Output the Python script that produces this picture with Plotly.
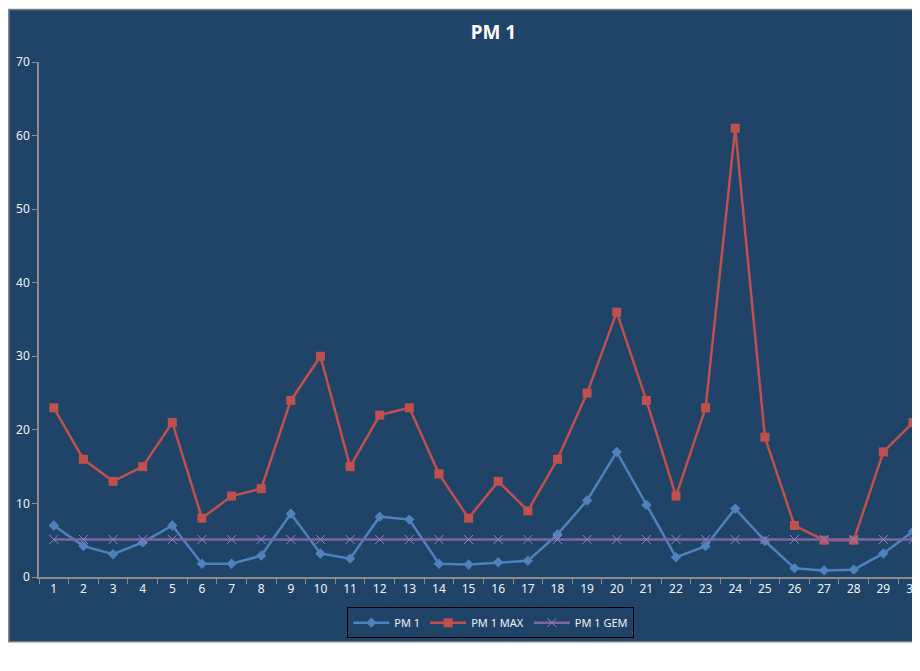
import plotly.graph_objects as go

# Day numbers (category axis)
days = [str(d) for d in range(1, 31)]

# PM 1 daily values
pm1 = [7.0, 4.2, 3.1, 4.7, 7.0, 1.8, 1.8, 2.9, 8.6, 3.2,
       2.5, 8.2, 7.8, 1.8, 1.7, 2.0, 2.2, 5.8, 10.4, 17.0,
       9.8, 2.7, 4.2, 9.3, 4.9, 1.2, 0.9, 1.0, 3.2, 6.2]
pm1_max = [23, 16, 13, 15, 21, 8, 11, 12, 24, 30,
           15, 22, 23, 14, 8, 13, 9, 16, 25, 36,
           24, 11, 23, 61, 19, 7, 5, 5, 17, 21]
pm1_gem = [5.1] * len(days)

BG = "#1F4467"
AXIS = "#8C8C8C"
TEXT = "#F2F2F2"
FONT = "Noto Sans"

fig = go.Figure()
fig.add_trace(go.Scatter(
    x=days, y=pm1, name="PM 1", mode="lines+markers",
    line={"color": "#4F81BD", "width": 2.5},
    marker={"symbol": "diamond", "size": 8, "color": "#4F81BD"},
))
fig.add_trace(go.Scatter(
    x=days, y=pm1_max, name="PM 1 MAX", mode="lines+markers",
    line={"color": "#C0504D", "width": 2.5},
    marker={"symbol": "square", "size": 9, "color": "#C0504D"},
))
fig.add_trace(go.Scatter(
    x=days, y=pm1_gem, name="PM 1 GEM", mode="lines+markers",
    line={"color": "#8064A2", "width": 2.5},
    marker={"symbol": "x-thin", "size": 9, "color": "#9A7FBF",
            "line": {"color": "#9A7FBF", "width": 1}},
))

# chart area frame (runs past the window on the right, like the reference)
fig.add_shape(
    type="rect", xref="paper", yref="paper", layer="below",
    x0=-0.0345, x1=1.02, y0=-0.1255, y1=1.102,
    fillcolor=BG, line={"color": "#7F7F7F", "width": 1.5},
)

fig.update_layout(
    width=912, height=663,
    margin={"l": 31, "r": 0, "t": 54, "b": 94},
    paper_bgcolor="white",
    plot_bgcolor=BG,
    font={"family": FONT, "size": 12, "color": TEXT},
    title={"text": "<b>PM 1</b>", "x": 0.52, "xref": "paper", "xanchor": "center",
           "y": 1 - 24 / 663, "yanchor": "middle",
           "font": {"family": FONT, "size": 19, "color": "white"}},
    showlegend=True,
    legend={"orientation": "h", "x": 0.517, "xanchor": "center",
            "y": -0.0886, "yanchor": "middle",
            "bgcolor": BG, "bordercolor": "black", "borderwidth": 1,
            "font": {"family": FONT, "size": 11, "color": TEXT},
            "itemwidth": 36, "tracegroupgap": 0},
    xaxis={"type": "category", "range": [-0.5, 29.0], "tickson": "boundaries",
           "ticks": "outside", "ticklen": 5, "tickcolor": AXIS,
           "showline": True, "linecolor": AXIS, "linewidth": 1.5,
           "showgrid": False, "zeroline": False,
           "tickfont": {"family": FONT, "size": 12, "color": TEXT}},
    yaxis={"range": [0, 70], "dtick": 10, "ticks": "outside", "ticklen": 5,
           "tickcolor": AXIS, "showline": True, "linecolor": AXIS, "linewidth": 1.5,
           "showgrid": False, "zeroline": False,
           "tickfont": {"family": FONT, "size": 12, "color": TEXT}},
)

fig.write_html("out.html")
